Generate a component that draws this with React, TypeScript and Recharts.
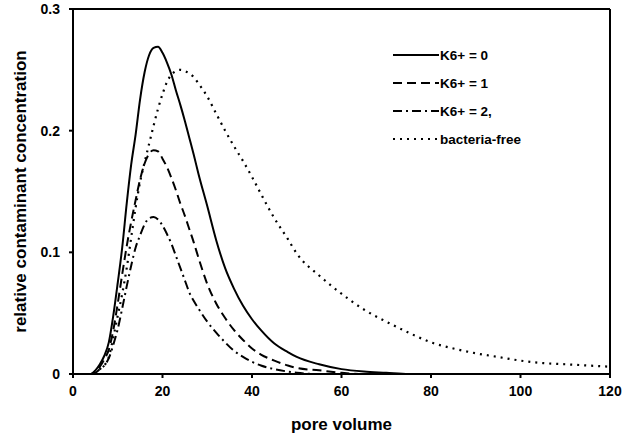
import React from "react";
import {
  Legend,
  Line,
  LineChart,
  ReferenceLine,
  XAxis,
  YAxis,
} from "recharts";

const poreVolume = [
  0, 2, 4, 5, 6, 7, 8, 9, 10, 11, 12, 13, 14, 15, 16, 17, 18, 19, 20, 21, 22,
  23, 24, 25, 26, 27, 28, 30, 32, 34, 36, 38, 40, 42, 45, 48, 50, 55, 60, 65,
  70, 75, 80, 85, 90, 95, 100, 105, 110, 115, 120,
];

const k0 = [
  0, 0, 0, 0.003, 0.008, 0.015, 0.026, 0.048, 0.075, 0.104, 0.14, 0.172, 0.197,
  0.226, 0.248, 0.262, 0.268, 0.269, 0.264, 0.256, 0.246, 0.233, 0.221, 0.208,
  0.194, 0.18, 0.165, 0.138, 0.11, 0.087, 0.07, 0.056, 0.045, 0.036, 0.025,
  0.018, 0.014, 0.008, 0.004, 0.002, 0.001, 0, 0, 0, 0, 0, 0, 0, 0, 0, 0,
];

const k1 = [
  0, 0, 0, 0.002, 0.006, 0.012, 0.02, 0.036, 0.058, 0.082, 0.105, 0.125, 0.143,
  0.16, 0.173, 0.181, 0.184, 0.183, 0.177, 0.17, 0.161, 0.151, 0.14, 0.13,
  0.119, 0.108, 0.096, 0.074, 0.058, 0.046, 0.036, 0.028, 0.021, 0.016, 0.011,
  0.007, 0.005, 0.003, 0.001, 0, 0, 0, 0, 0, 0, 0, 0, 0, 0, 0, 0,
];

const k2 = [
  0, 0, 0, 0.001, 0.004, 0.007, 0.013, 0.024, 0.037, 0.054, 0.072, 0.089,
  0.104, 0.114, 0.123, 0.128, 0.129, 0.127, 0.122, 0.115, 0.107, 0.097, 0.087,
  0.077, 0.067, 0.06, 0.054, 0.043, 0.034, 0.026, 0.019, 0.014, 0.01, 0.007,
  0.004, 0.002, 0.001, 0, 0, 0, 0, 0, 0, 0, 0, 0, 0, 0, 0, 0, 0,
];

const bacteriaFree = [
  0, 0, 0, 0.001, 0.004, 0.007, 0.014, 0.03, 0.048, 0.066, 0.087, 0.112,
  0.137, 0.158, 0.174, 0.189, 0.204, 0.218, 0.23, 0.24, 0.246, 0.249, 0.25,
  0.249, 0.247, 0.244, 0.239, 0.228, 0.214, 0.2, 0.187, 0.175, 0.162, 0.148,
  0.128, 0.111, 0.099, 0.081, 0.066, 0.053, 0.043, 0.034, 0.026, 0.021, 0.017,
  0.014, 0.011, 0.009, 0.008, 0.007, 0.006,
];

const xTicks = [0, 20, 40, 60, 80, 100, 120];
const yTicks = [0, 0.1, 0.2, 0.3];

const series = [
  { key: "k0", name: "K6+ = 0", dash: undefined, width: 2 },
  { key: "k1", name: "K6+ = 1", dash: "9 5", width: 2 },
  { key: "k2", name: "K6+ = 2,", dash: "9 4 2 4", width: 2 },
  { key: "free", name: "bacteria-free", dash: "2 5", width: 2.2 },
];

const data = poreVolume.map((x, i) => ({
  x,
  k0: k0[i],
  k1: k1[i],
  k2: k2[i],
  free: bacteriaFree[i],
}));

const font = "'Liberation Sans', Arial, sans-serif";
const tickStyle = { fill: "#000", fontSize: 14, fontWeight: "bold", fontFamily: font };
const titleStyle = { fill: "#000", fontSize: 17, fontWeight: "bold", fontFamily: font };

function LegendBox() {
  return (
    <svg width={180} height={110} style={{ display: "block" }}>
      {series.map((s, i) => (
        <g key={s.key} transform={`translate(0, ${i * 28 + 8})`}>
          <line
            x1={2}
            x2={48}
            y1={0}
            y2={0}
            stroke="#000"
            strokeWidth={s.width}
            strokeDasharray={s.dash}
          />
          <text
            x={49}
            y={5}
            fontSize={13.5}
            fontWeight="bold"
            fontFamily={font}
            fill="#000"
          >
            {s.name}
          </text>
        </g>
      ))}
    </svg>
  );
}

export default function App() {
  return (
    <div style={{ position: "absolute", left: 0, top: 0, background: "#fff" }}>
      <LineChart
        width={638}
        height={438}
        data={data}
        margin={{ top: 9, right: 28, left: 0, bottom: 34 }}
      >
        <XAxis
          dataKey="x"
          type="number"
          domain={[0, 120]}
          ticks={xTicks}
          tickSize={4}
          tickMargin={8}
          height={30}
          stroke="#000"
          strokeWidth={2}
          tick={tickStyle}
          label={{
            value: "pore volume",
            position: "insideBottom",
            offset: -26,
            ...titleStyle,
          }}
        />
        <YAxis
          type="number"
          domain={[0, 0.3]}
          ticks={yTicks}
          width={73}
          tickSize={4}
          tickMargin={9}
          stroke="#000"
          strokeWidth={2}
          tickFormatter={(v: number) => (v === 0 ? "0" : v.toFixed(1))}
          tick={tickStyle}
          label={{
            value: "relative contaminant concentration",
            angle: -90,
            position: "insideLeft",
            offset: 20,
            ...titleStyle,
            style: { textAnchor: "middle" },
          }}
        />
        <ReferenceLine y={0.3} stroke="#000" strokeWidth={2} ifOverflow="visible" />
        <ReferenceLine x={120} stroke="#000" strokeWidth={2} ifOverflow="visible" />
        <Legend
          content={<LegendBox />}
          layout="horizontal"
          verticalAlign="middle"
          align="center"
          wrapperStyle={{ left: 391, top: 47, width: 180, height: 110 }}
        />
        {series.map((s) => (
          <Line
            key={s.key}
            dataKey={s.key}
            name={s.name}
            type="monotone"
            stroke="#000"
            strokeWidth={s.width}
            strokeDasharray={s.dash}
            dot={false}
            isAnimationActive={false}
          />
        ))}
      </LineChart>
    </div>
  );
}
